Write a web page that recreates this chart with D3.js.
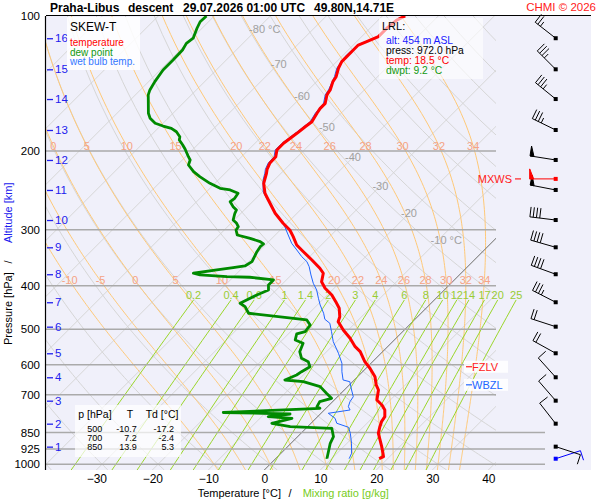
<!DOCTYPE html>
<html>
<head>
<meta charset="utf-8">
<script src="https://cdn.jsdelivr.net/npm/d3@7/dist/d3.min.js"></script>
<style>
  body { margin: 0; background: #fff; }
  svg { font-family: "Liberation Sans", Arial, sans-serif; }
</style>
</head>
<body>
<svg id="chart" width="600" height="500"></svg>
<script>
// ---- data read from the sounding ----
// [pressure hPa, value °C]
let temperature = [
  [100,-55.9],[102.1,-56.7],[106.5,-57.0],[111.2,-57.0],[114.1,-58.2],[116.1,-59.1],[119.1,-59.1],
  [123.2,-59.1],[126.4,-59.1],[130.8,-58.5],[136.6,-57.4],[140.1,-57.1],[146.2,-56.1],[150.0,-55.8],
  [156.6,-54.6],[160.7,-54.6],[164.8,-54.3],[172.1,-53.7],[176.6,-54.0],[182.7,-54.3],[187.4,-54.6],
  [192.3,-54.9],[199.0,-54.9],[206.0,-53.9],[213.1,-53.8],[219.8,-53.2],[224.3,-52.6],[236.2,-51.3],
  [248.6,-49.3],[257.3,-47.5],[275.5,-43.9],[290.0,-40.7],[300.2,-38.3],[310.7,-36.5],[324.2,-34.4],
  [335.6,-32.0],[350.2,-29.0],[365.4,-26.1],[374.9,-24.6],[391.5,-23.4],[404.9,-21.6],[419.1,-19.2],
  [433.8,-17.3],[448.8,-15.5],[468.6,-13.9],[480.7,-13.3],[501.7,-10.9],[523.6,-8.2],[546.6,-5.8],
  [560.9,-4.0],[590.4,-1.4],[610.8,0.7],[637.7,3.1],[665.5,4.8],[682.9,6.1],[718.8,7.6],[737.6,9.4],
  [756.7,10.8],[783.2,12.0],[803.6,12.3],[824.5,12.9],[852.8,13.8],[882.7,15.3],[913.6,16.8],
  [945.1,18.2],[961.7,18.9],[972,18.5]
];
let dewPoint = [
  [100,-91.4],[103.0,-91.5],[106.5,-90.9],[112.1,-89.8],[115.1,-90.1],[119.1,-89.6],[125.4,-89.5],
  [132.0,-89.5],[140.1,-88.9],[146.2,-88.3],[150.0,-87.7],[164.8,-84.4],[169.1,-83.2],[173.5,-81.4],
  [176.0,-79.5],[178.1,-77.6],[181.2,-76.1],[185.9,-74.6],[189.1,-74.1],[194.0,-72.6],[198.3,-71.4],
  [206.0,-69.5],[209.5,-68.6],[215.0,-68.0],[222.5,-65.9],[228.3,-63.9],[236.2,-60.9],[242.3,-58.2],
  [244.4,-56.1],[248.6,-54.1],[255.1,-53.8],[259.6,-54.0],[266.3,-52.6],[270.9,-51.4],[275.5,-51.1],
  [285.2,-50.2],[290.0,-49.0],[295.1,-48.1],[300.2,-47.9],[308.0,-46.8],[313.3,-43.9],[318.8,-41.5],
  [322.6,-40.5],[327.1,-40.6],[335.6,-40.3],[353.2,-39.4],[361.1,-39.9],[364.2,-41.7],[368.6,-44.2],
  [374.9,-47.8],[378.2,-46.3],[381.5,-41.2],[382.7,-37.0],[388.0,-32.3],[398.1,-32.3],[408.5,-31.4],
  [419.1,-32.6],[437.4,-34.1],[445.1,-32.6],[460.4,-30.8],[476.6,-19.2],[489.0,-17.7],[506.1,-17.4],
  [512.1,-18.5],[528.1,-17.7],[537.2,-15.7],[560.9,-14.8],[580.2,-13.3],[590.4,-11.5],[605.8,-10.3],
  [621.6,-10.9],[632.2,-11.2],[648.7,-12.4],[654.4,-8.8],[671.3,-4.9],[694.5,-2.6],[712.6,-0.8],
  [725.2,-2.3],[744.0,-1.9],[750.2,-1.1],[766.5,-17.6],[772.5,-5.4],[783.2,-8.8],[789.7,-4.3],
  [810.2,-7.0],[824.5,-3.1],[831.3,4.6],[867.9,6.4],[897.8,7.0],[945.1,8.4],[969.7,9.1],[972,9.2]
];
let wetBulb = [
  [100,-56.1],[106.5,-57.2],[111.2,-57.2],[116.1,-59.3],[123.2,-59.4],[130.8,-58.8],[136.6,-57.7],
  [146.2,-56.4],[150.0,-56.1],[156.6,-54.9],[164.8,-54.6],[172.1,-54.0],[182.7,-54.6],[192.3,-55.2],
  [199.0,-55.2],[206.0,-54.2],[213.1,-54.1],[219.8,-53.5],[224.3,-52.9],[232.2,-52.0],[246.6,-49.9],
  [255.1,-48.1],[270.9,-44.8],[282.7,-42.1],[295.1,-39.8],[308.0,-37.7],[321.4,-35.6],[332.6,-33.5],
  [344.3,-31.4],[353.2,-29.6],[362.4,-28.3],[378.2,-26.5],[394.7,-24.6],[408.5,-22.8],[426.3,-21.0],
  [441.2,-19.5],[460.4,-17.4],[474.9,-16.1],[484.7,-14.5],[506.1,-12.7],[532.8,-10.6],[565.5,-7.6],
  [595.3,-5.2],[621.6,-3.7],[648.7,-2.0],[654.4,-0.5],[682.9,1.3],[706.8,2.8],[725.2,3.1],[744.0,3.7],
  [756.7,4.6],[769.7,1.3],[789.7,3.4],[810.2,4.6],[827.0,7.4],[852.8,8.8],[897.8,10.8],[945.1,12.6],
  [969.7,13.1],[972,13.1]
];

let pressureTicks = [100, 200, 300, 400, 500, 600, 700, 850, 925, 1000];
let longIsobars = [850, 925, 1000];
let tempTicks = [-30, -20, -10, 0, 10, 20, 30, 40];
let altitudeKm = [1, 2, 3, 4, 5, 6, 7, 8, 9, 10, 11, 12, 13, 14, 15, 16];
let altitudeP = [913.6, 811.9, 721.4, 639.7, 565.5, 493.3, 435.1, 376.8, 328.1, 285.2, 244.4, 209.5, 179.6, 153.2, 131.5, 112.1];

let windP = [972, 913.6, 811.9, 721.4, 639.7, 565.5, 493.3, 435.1, 376.8, 328.1, 285.2, 244.4, 209.5, 179.6, 153.2, 131.5, 112.1];
let windDir = [72, 108, 322, 319, 318, 299, 288, 297, 290, 286, 277, 281, 279, 296, 309, 315, 308];
let windSpeed = [10, 10, 10, 10, 10, 20, 20, 35, 40, 40, 40, 50, 50, 35, 35, 35, 25];
let mxws = {p: 230.9, dir: 270, speed: 50};

let isothermLabels = [-80, -70, -60, -50, -40, -30, -20, -10];
let moistThetaW = [-10, -5, 0, 5, 10, 15, 20, 22, 24, 26, 28, 30, 32, 34];
let mixingRatios = [0.2, 0.4, 0.6, 1, 1.4, 2, 3, 4, 6, 8, 10, 12, 14, 17, 20, 25];

let tableP = [500, 700, 850];
let tableT = [-10.7, 7.2, 13.9];
let tableTd = [-17.2, -2.4, 5.3];

let lrl = {alt: 454, p: 972.0, t: 18.5, td: 9.2};
let fzlvP = 606, wbzlP = 665;

// ---- layout ----
let svg = d3.select("#chart");
let plotL = 46, plotR = 496, plotT = 16, plotB = 470, bgR = 591;

let y = d3.scaleLog().domain([100, 1030]).range([plotT, plotB]);
let tx = d3.scaleLinear().domain([-30, 40]).range([96.3, 488.3]);
// skewed x: isotherms tilt 45 degrees
let sx = (t, p) => tx(t) + (plotB - y(p));

let line = d3.line().x(d => sx(d[1], d[0])).y(d => y(d[0]));

// thermodynamics for the background lines
let satVap = tC => 6.112 * Math.exp(17.67 * tC / (tC + 243.5));
let moistLapse = (tK, p) => {
  let es = satVap(tK - 273.15);
  let rs = 0.622 * es / (p - es);
  let Rd = 287.04, Cp = 1005.7, L = 2.501e6;
  return (Rd * tK + L * rs) / (Cp + L * L * rs * 0.622 / (Rd * tK * tK)) / p;
};
let moistAdiabat = tw => {
  let up = [], down = [];
  let t = tw + 273.15;
  for (let p = 1000; p > 100; p -= 5) {
    up.push([p, t - 273.15]);
    let k1 = moistLapse(t, p);
    let k2 = moistLapse(t - 2.5 * k1, p - 2.5);
    t -= 5 * k2;
  }
  up.push([100, t - 273.15]);
  t = tw + 273.15;
  for (let p = 1000; p < 1030; p += 5) {
    let k1 = moistLapse(t, p);
    let k2 = moistLapse(t + 2.5 * k1, p + 2.5);
    t += 5 * k2;
    down.push([p + 5, t - 273.15]);
  }
  return down.reverse().concat(up);
};
let mixDew = (w, p) => {
  let e = w * p / (622 + w);
  let g = Math.log(e / 6.112);
  return 243.5 * g / (17.67 - g);
};
// x of a curve where it crosses pressure p
let xAtP = (pts, p) => {
  let best = pts[0], dist = Infinity;
  pts.forEach(d => {
    let dd = Math.abs(Math.log(d[0] / p));
    if (dd < dist) { dist = dd; best = d; }
  });
  return sx(best[1], best[0]);
};

// background
svg.append("rect").attr("x", plotL).attr("y", plotT)
  .attr("width", bgR - plotL).attr("height", plotB - plotT).attr("fill", "#f0f0fa");

svg.append("clipPath").attr("id", "plotClip").append("rect")
  .attr("x", plotL).attr("y", plotT).attr("width", plotR - plotL).attr("height", plotB - plotT);

let grid = svg.append("g").attr("clip-path", "url(#plotClip)");

// isotherms
d3.range(-130, 50, 10).forEach(t => {
  grid.append("line")
    .attr("x1", sx(t, 1030)).attr("y1", y(1030))
    .attr("x2", sx(t, 100)).attr("y2", y(100))
    .attr("stroke", "#d6d6d6").attr("stroke-width", 1);
});

// dry adiabats
let pSteps = d3.range(100, 1031, 10);
d3.range(-50, 190, 10).forEach(th => {
  let pts = pSteps.map(p => [p, (th + 273.15) * Math.pow(p / 1000, 0.286) - 273.15]);
  grid.append("path").attr("d", line(pts))
    .attr("fill", "none").attr("stroke", "#d6d6d6").attr("stroke-width", 1);
});

// saturated adiabats
let moistCurves = moistThetaW.map(tw => moistAdiabat(tw));
moistCurves.forEach(pts => {
  grid.append("path").attr("d", line(pts))
    .attr("fill", "none").attr("stroke", "#ffc978").attr("stroke-width", 1);
});

// mixing ratio lines
let mixTop = 430;
let mixSteps = d3.range(mixTop, 1031, 20);
mixingRatios.forEach(w => {
  let pts = mixSteps.map(p => [p, mixDew(w, p)]);
  svg.append("path").attr("d", line(pts))
    .attr("fill", "none").attr("stroke", "#9ad62a").attr("stroke-width", 1);
});

// isobars
pressureTicks.filter(p => p > 100).forEach(p => {
  svg.append("line")
    .attr("x1", plotL).attr("x2", longIsobars.includes(p) ? 545 : plotR)
    .attr("y1", y(p)).attr("y2", y(p))
    .attr("stroke", "#aaaaaa").attr("stroke-width", 1.5);
});

// 0 °C isotherm
grid.append("line")
  .attr("x1", sx(0, 1030)).attr("y1", y(1030))
  .attr("x2", sx(0, 100)).attr("y2", y(100))
  .attr("stroke", "#777").attr("stroke-width", 1);

// labels of the background lines
let labels = svg.append("g").style("font-size", "11px");

let labelTheta = 366;
isothermLabels.forEach(t => {
  let p = 1000 * Math.pow((t + 273.15) / labelTheta, 1 / 0.286);
  let unit = (t === -80 || t === -10);
  labels.append("text")
    .attr("x", sx(t, p) + (unit ? -8 : 0)).attr("y", y(p))
    .attr("text-anchor", unit ? "start" : "middle")
    .attr("dominant-baseline", "central")
    .attr("fill", "#a0a0a0")
    .text(unit ? t + " °C" : t);
});

[y.invert(146), y.invert(280)].forEach(p => {
  moistCurves.forEach((pts, i) => {
    let x = xAtP(pts, p);
    if (x < 52 || x > 492) return;
    labels.append("text")
      .attr("x", x).attr("y", y(p))
      .attr("text-anchor", "middle").attr("dominant-baseline", "central")
      .attr("fill", "#f5a385")
      .text(moistThetaW[i]);
  });
});

mixingRatios.forEach(w => {
  labels.append("text")
    .attr("x", sx(mixDew(w, mixTop), mixTop)).attr("y", y(mixTop) - 5)
    .attr("text-anchor", "middle").attr("dominant-baseline", "central")
    .attr("fill", "#99cc33")
    .text(w);
});

// profiles
let prof = svg.append("g").attr("clip-path", "url(#plotClip)")
  .attr("fill", "none").attr("stroke-linejoin", "round");
prof.append("path").attr("d", line(wetBulb)).attr("stroke", "#1e64ff").attr("stroke-width", 1);
prof.append("path").attr("d", line(dewPoint)).attr("stroke", "#008a00").attr("stroke-width", 2.8);
prof.append("path").attr("d", line(temperature)).attr("stroke", "#ff0000").attr("stroke-width", 3);

// frame
svg.append("line").attr("x1", plotL).attr("x2", bgR).attr("y1", plotT - 0.5).attr("y2", plotT - 0.5)
  .attr("stroke", "#000").attr("stroke-width", 1.2);
svg.append("line").attr("x1", plotL - 0.5).attr("x2", plotL - 0.5).attr("y1", plotT).attr("y2", plotB)
  .attr("stroke", "#000").attr("stroke-width", 1.2);

// axes
let axisFont = "Liberation Sans, Arial, sans-serif";
let pAxis = svg.append("g").attr("transform", `translate(${plotL},0)`)
  .call(d3.axisLeft(y).tickValues(pressureTicks).tickFormat(d3.format("d")).tickSize(0).tickPadding(6));
pAxis.select(".domain").remove();
pAxis.selectAll("text").style("font-size", "11.5px").style("font-family", axisFont).attr("fill", "#000");

let tAxis = svg.append("g").attr("transform", `translate(0,${plotB})`)
  .call(d3.axisBottom(tx).tickValues(tempTicks).tickSize(0).tickPadding(4));
tAxis.select(".domain").remove();
tAxis.selectAll("text").style("font-size", "12px").style("font-family", axisFont).attr("fill", "#000");

let zAxis = svg.append("g").attr("transform", `translate(${plotL + 1},0)`)
  .call(d3.axisRight(y).tickValues(altitudeP).tickFormat((d, i) => altitudeKm[i]).tickSize(6).tickPadding(2));
zAxis.select(".domain").remove();
zAxis.selectAll("line").attr("stroke", "#2020ee").attr("stroke-width", 1.3);
zAxis.selectAll("text").style("font-size", "11.5px").style("font-family", axisFont).attr("fill", "#2020ee");

// axis titles
let xTitle = svg.append("g").style("font-size", "11px");
xTitle.append("text").attr("x", 197.7).attr("y", 497).text("Temperature [°C]");
xTitle.append("text").attr("x", 290).attr("y", 497).attr("text-anchor", "middle").text("/");
xTitle.append("text").attr("x", 302.7).attr("y", 497).attr("fill", "#77cc22").text("Mixing ratio [g/kg]");

let yTitle = svg.append("g").style("font-size", "11px");
yTitle.append("text").attr("transform", "translate(12,345) rotate(-90)").text("Pressure [hPa]");
yTitle.append("text").attr("transform", "translate(12,262) rotate(-90)").attr("text-anchor", "middle").text("/");
yTitle.append("text").attr("transform", "translate(12,243) rotate(-90)").attr("fill", "#2020ee").text("Altitude [km]");

// title
let title = svg.append("g").style("font-size", "12px").style("font-weight", "bold");
title.append("text").attr("x", 50).attr("y", 12).text("Praha-Libus");
title.append("text").attr("x", 128).attr("y", 12).text("descent");
title.append("text").attr("x", 183).attr("y", 12).text("29.07.2026 01:00 UTC");
title.append("text").attr("x", 314).attr("y", 12).text("49.80N,14.71E");
svg.append("text").attr("x", 596).attr("y", 11).attr("text-anchor", "end")
  .style("font-size", "11.5px").attr("fill", "#ff2020").text("CHMI © 2026");

// wind barbs
let staffLen = 26, barbLen = 10, barbGap = 3.3, windX = 555.7;
let drawBarb = (g, py, dir, spd, color) => {
  let a = dir * Math.PI / 180;
  let dx = Math.sin(a), dy = -Math.cos(a);
  let ex = windX + staffLen * dx, ey = py + staffLen * dy;
  let nx = -dy, ny = dx;
  g.append("line").attr("x1", windX).attr("y1", py).attr("x2", ex).attr("y2", ey)
    .attr("stroke", color).attr("stroke-width", 1);
  let rest = spd, pos = 0;
  while (rest >= 50) {
    let bx = ex - pos * dx, by = ey - pos * dy;
    g.append("path")
      .attr("d", `M${bx},${by}L${bx + barbLen * nx},${by + barbLen * ny}L${bx - 4 * dx},${by - 4 * dy}Z`)
      .attr("fill", color).attr("stroke", color).attr("stroke-width", 1);
    pos += 6; rest -= 50;
  }
  while (rest >= 10) {
    let bx = ex - pos * dx, by = ey - pos * dy;
    g.append("line").attr("x1", bx).attr("y1", by)
      .attr("x2", bx + barbLen * nx).attr("y2", by + barbLen * ny)
      .attr("stroke", color).attr("stroke-width", 1);
    pos += barbGap; rest -= 10;
  }
  if (rest >= 5) {
    let bx = ex - pos * dx, by = ey - pos * dy;
    g.append("line").attr("x1", bx).attr("y1", by)
      .attr("x2", bx + barbLen * 0.55 * nx).attr("y2", by + barbLen * 0.55 * ny)
      .attr("stroke", color).attr("stroke-width", 1);
  }
  g.append("rect").attr("x", windX - 2).attr("y", py - 2).attr("width", 4).attr("height", 4).attr("fill", color);
};
let winds = svg.append("g");
windP.forEach((p, i) => drawBarb(winds, y(p), windDir[i], windSpeed[i], i === 0 ? "#0000ff" : "#000"));
drawBarb(winds, y(mxws.p), mxws.dir, mxws.speed, "#ff0000");

let small = svg.append("g").style("font-size", "11px");
small.append("text").attr("x", 512).attr("y", y(mxws.p)).attr("text-anchor", "end")
  .attr("dominant-baseline", "central").attr("fill", "#ff2020").text("MXWS");
small.append("line").attr("x1", 515).attr("x2", 521).attr("y1", y(mxws.p)).attr("y2", y(mxws.p))
  .attr("stroke", "#ff2020").attr("stroke-width", 1.2);

// freezing / wet-bulb zero levels
[[fzlvP, "FZLV", "#ff2020"], [wbzlP, "WBZL", "#2266ff"]].forEach(([p, name, c]) => {
  let yy = y(p);
  small.append("rect").attr("x", 464).attr("y", yy - 6).attr("width", 44).attr("height", 12)
    .attr("fill", "#fff").attr("opacity", 0.85);
  small.append("line").attr("x1", 466).attr("x2", 472).attr("y1", yy).attr("y2", yy)
    .attr("stroke", c).attr("stroke-width", 1.2);
  small.append("text").attr("x", 472).attr("y", yy).attr("dominant-baseline", "central")
    .attr("fill", c).text(name);
});

// legend box
let leg = svg.append("g");
leg.append("rect").attr("x", 67).attr("y", 17).attr("width", 73).attr("height", 53)
  .attr("fill", "#fff").attr("opacity", 0.85);
leg.append("text").attr("x", 70).attr("y", 31).style("font-size", "12px").text("SKEW-T");
[["temperature", "#ff0000"], ["dew point", "#119911"], ["wet bulb temp.", "#3377ff"]].forEach(([t, c], i) => {
  leg.append("text").attr("x", 70).attr("y", 46 + i * 9.7).style("font-size", "10px").attr("fill", c).text(t);
});

// lowest reported level box
let box = svg.append("g").style("font-size", "10.3px");
box.append("rect").attr("x", 379).attr("y", 18).attr("width", 104).attr("height", 61)
  .attr("fill", "#fff").attr("opacity", 0.6);
box.append("text").attr("x", 382).attr("y", 30).style("font-size", "11px").text("LRL:");
let lrlRows = [
  [`alt: ${lrl.alt} m ASL`, "#1a1aff"],
  [`press: ${lrl.p.toFixed(1)} hPa`, "#000"],
  [`temp: ${lrl.t.toFixed(1)} °C`, "#ff0000"],
  [`dwpt: ${lrl.td.toFixed(1)} °C`, "#119911"]
];
lrlRows.forEach(([t, c], i) => {
  box.append("text").attr("x", 386).attr("y", 43.5 + i * 10.3).attr("fill", c).text(t);
});

// table of standard levels
let tab = svg.append("g").style("font-size", "9px");
tab.append("rect").attr("x", 75).attr("y", 405).attr("width", 106).attr("height", 52)
  .attr("fill", "#fff").attr("opacity", 0.7);
tab.append("text").attr("x", 78.3).attr("y", 417.5).style("font-size", "10.5px").text("p [hPa]");
tab.append("text").attr("x", 126.7).attr("y", 417.5).style("font-size", "10.5px").text("T");
tab.append("text").attr("x", 145.7).attr("y", 417.5).style("font-size", "10.5px").text("Td [°C]");
tableP.forEach((p, i) => {
  let yy = 432 + i * 9.2;
  tab.append("text").attr("x", 102.3).attr("y", yy).attr("text-anchor", "end").text(p);
  tab.append("text").attr("x", 136.7).attr("y", yy).attr("text-anchor", "end").text(tableT[i].toFixed(1));
  tab.append("text").attr("x", 174).attr("y", yy).attr("text-anchor", "end").text(tableTd[i].toFixed(1));
});
</script>
</body>
</html>
